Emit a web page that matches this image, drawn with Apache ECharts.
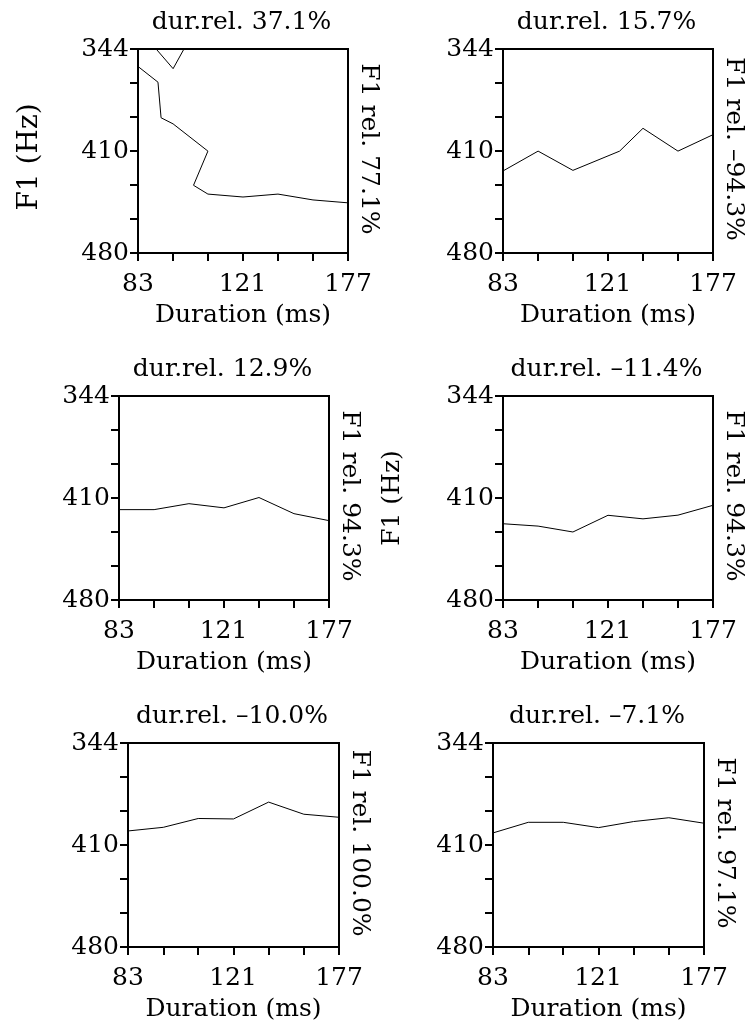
<!DOCTYPE html>
<html>
<head>
<meta charset="utf-8">
<script src="https://cdn.jsdelivr.net/npm/echarts@6/dist/echarts.min.js"></script>
<style>
  html, body { margin: 0; background: #fff; }
  #chart { width: 749px; height: 1031px; }
</style>
</head>
<body>
<div id="chart"></div>
<script>
// panel texts
const titles = ["dur.rel. 37.1%", "dur.rel. 15.7%", "dur.rel. 12.9%",
                "dur.rel. –11.4%", "dur.rel. –10.0%", "dur.rel. –7.1%"];
const relLabels = ["F1 rel. 77.1%", "F1 rel. –94.3%", "F1 rel. 94.3%",
                   "F1 rel. 94.3%", "F1 rel. 100.0%", "F1 rel. 97.1%"];

// tick labels
const durTickLabels = [83, 121, 177];
const f1TickLabels = [344, 410, 480];
// minor ticks on the duration axis (log spaced)
const durTicks = [83, 94.2, 106.8, 121.2, 137.5, 156, 177];

// durations (ms) and F1 (Hz) per panel
const stepDur = [83, 94.2, 106.8, 121.2, 137.5, 156, 177];
const p1Dur = [83, 89.2, 90.2, 94.2, 106.8, 101.4, 106.8, 121.2, 137.5, 156, 177];
const p1F1 = [355, 365, 388, 392, 410, 433, 439, 441, 439, 443, 445];
const p1bDur = [87.3, 94.2, 99.6];
const p1bF1 = [341, 356.4, 338.8];
const p2Dur = [83, 94.2, 106.8, 126.4, 137.5, 156, 177];
const p2F1 = [423.3, 410, 422.9, 410, 394.9, 410, 399.1];
const p3F1 = [417.7, 417.7, 413.7, 416.5, 409.6, 420.4, 425.1];
const p4F1 = [427.2, 428.8, 432.8, 421.5, 423.9, 421.4, 414.8];
const p5F1 = [400.6, 398.2, 392.4, 392.7, 381.7, 389.6, 391.6];
const p6F1 = [401.9, 394.9, 394.9, 398.4, 394.4, 391.9, 395.5];

const panelLines = [
  [[p1Dur, p1F1], [p1bDur, p1bF1]],
  [[p2Dur, p2F1]],
  [[stepDur, p3F1]],
  [[stepDur, p4F1]],
  [[stepDur, p5F1]],
  [[stepDur, p6F1]],
];

// F1 axis is drawn on a mel scale
const mel = (f) => 2595 * Math.log10(1 + f / 700);
const hz = (m) => 700 * (Math.pow(10, m / 2595) - 1);
const yMin = mel(f1TickLabels[0]);
const yMax = mel(f1TickLabels[2]);
const yTicks = [0, 1, 2, 3, 4, 5, 6].map((k) => (k === 6 ? yMax : yMin + (k * (yMax - yMin)) / 6));

const layout = [
  { left: 138, top: 49, width: 210, height: 204 },
  { left: 503, top: 49, width: 210, height: 204 },
  { left: 119, top: 396, width: 210, height: 204 },
  { left: 503, top: 396, width: 210, height: 204 },
  { left: 128, top: 743, width: 211, height: 204 },
  { left: 493, top: 743, width: 211, height: 204 },
];
// left axis name only on two panels: [gap, font size, shift]
const yNames = [[94, 28, 12], null, null, [98, 25, 0], null, null];

const FONT = "DejaVu Serif";
const FS = 25;
const textStyle = { fontFamily: FONT, fontSize: FS, color: "#000" };
const axisStroke = { color: "#000", width: 2 };

const grids = [], xAxes = [], yAxes = [], series = [], graphics = [];

layout.forEach((g, i) => {
  grids.push({
    left: g.left, top: g.top, width: g.width, height: g.height,
    show: true, borderColor: "#000", borderWidth: 2,
    containLabel: false, outerBoundsMode: "none",
  });
  xAxes.push({
    type: "log", gridIndex: i, min: 83, max: 177, logBase: 10,
    name: "Duration (ms)", nameLocation: "middle", nameGap: 50,
    nameTextStyle: textStyle,
    axisLine: { onZero: false, lineStyle: axisStroke },
    axisTick: { customValues: durTicks, length: 8, lineStyle: axisStroke },
    axisLabel: Object.assign({ customValues: durTickLabels, margin: 19,
      formatter: (v) => String(Math.round(v)) }, textStyle),
    splitLine: { show: false },
    minorTick: { show: false },
  });
  const y = {
    type: "value", gridIndex: i, min: yMin, max: yMax, inverse: true,
    axisLine: { lineStyle: axisStroke },
    axisTick: { customValues: yTicks, length: 8, lineStyle: axisStroke },
    axisLabel: Object.assign({ customValues: f1TickLabels.map(mel), margin: 9,
      padding: [4, 0, 0, 0],
      formatter: (v) => String(Math.round(hz(v))) }, textStyle),
    splitLine: { show: false },
  };
  if (yNames[i]) {
    const [gap, size, shift] = yNames[i];
    Object.assign(y, { name: "F1 (Hz)", nameLocation: "middle", nameRotate: 90,
      nameGap: gap,
      nameTextStyle: Object.assign({}, textStyle, { fontSize: size, padding: [0, shift, 0, 0] }) });
  }
  yAxes.push(y);

  panelLines[i].forEach(([durs, f1s]) => {
    series.push({
      type: "line", xAxisIndex: i, yAxisIndex: i,
      data: durs.map((d, j) => [d, mel(f1s[j])]),
      symbol: "none", clip: true, silent: true,
      lineStyle: { color: "#000", width: 1 },
    });
  });

  graphics.push({
    type: "text", x: g.left + g.width / 2 - 1.5, y: g.top - 27,
    style: { text: titles[i], font: FS + "px '" + FONT + "'", fill: "#000",
      align: "center", verticalAlign: "middle" },
  });
  graphics.push({
    type: "text", x: g.left + g.width + 20, y: g.top + g.height / 2 - 2,
    rotation: -Math.PI / 2,
    style: { text: relLabels[i], font: FS + "px '" + FONT + "'", fill: "#000",
      align: "center", verticalAlign: "middle" },
  });
});

const chart = echarts.init(document.getElementById("chart"), null, { renderer: "canvas" });
chart.setOption({
  animation: false,
  backgroundColor: "#fff",
  grid: grids,
  xAxis: xAxes,
  yAxis: yAxes,
  series: series,
  graphic: graphics,
});
</script>
</body>
</html>
